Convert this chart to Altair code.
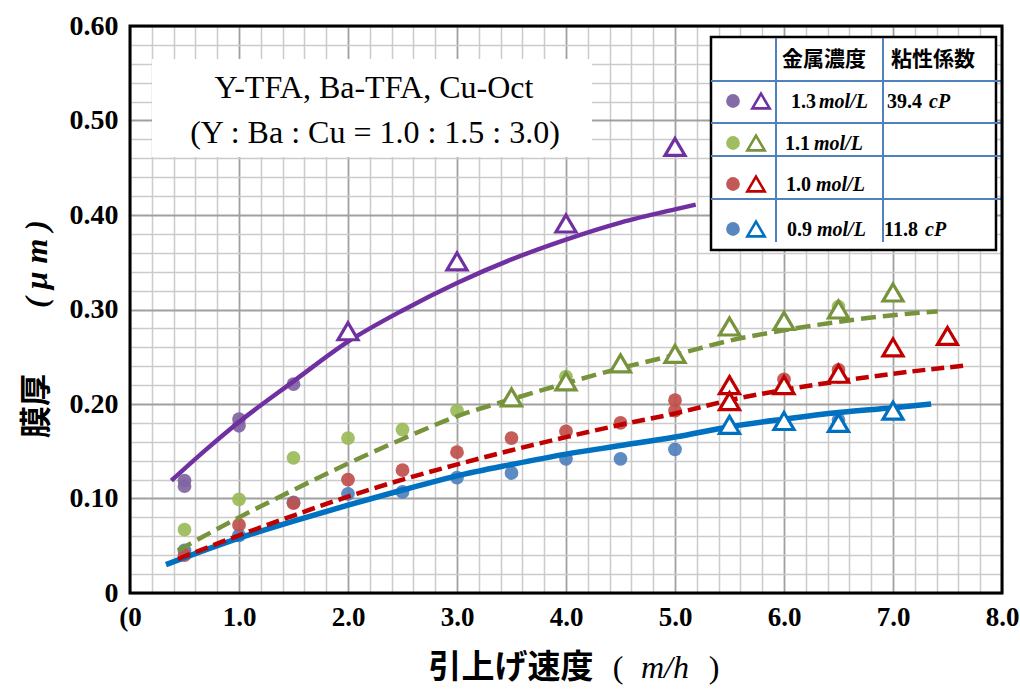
import altair as alt
import pandas as pd

# ---------------------------------------------------------------
# Film thickness (um) vs. withdrawal speed (m/h) for four metal
# concentrations of the Y-TFA / Ba-TFA / Cu-Oct solution.
# ---------------------------------------------------------------
SERIES = ["1.3", "1.1", "1.0", "0.9"]

# filled circles
circ_x = {
    "1.3": [0.5, 0.5, 1.0, 1.0, 1.5],
    "1.1": [0.5, 1.0, 1.5, 2.0, 2.5, 3.0, 4.0, 6.5],
    "1.0": [0.5, 1.0, 1.5, 2.0, 2.5, 3.0, 3.5, 4.0, 4.5, 5.0, 5.0, 6.0, 6.5],
    "0.9": [0.5, 1.0, 1.5, 2.0, 2.5, 3.0, 3.5, 4.0, 4.5, 5.0, 6.5],
}
circ_y = {
    "1.3": [0.119, 0.113, 0.184, 0.177, 0.221],
    "1.1": [0.067, 0.099, 0.143, 0.164, 0.173, 0.193, 0.229, 0.303],
    "1.0": [0.040, 0.072, 0.095, 0.120, 0.130, 0.149, 0.164, 0.171, 0.180, 0.204, 0.193, 0.226, 0.236],
    "0.9": [0.045, 0.061, 0.096, 0.105, 0.107, 0.122, 0.127, 0.142, 0.142, 0.152, 0.183],
}

# open triangles
tri_x = {
    "1.3": [2.0, 3.0, 4.0, 5.0],
    "1.1": [3.5, 4.0, 4.5, 5.0, 5.5, 6.0, 6.5, 7.0],
    "1.0": [5.5, 5.5, 6.0, 6.5, 7.0, 7.5],
    "0.9": [5.5, 6.0, 6.5, 7.0],
}
tri_y = {
    "1.3": [0.277, 0.351, 0.391, 0.472],
    "1.1": [0.207, 0.224, 0.243, 0.253, 0.282, 0.288, 0.300, 0.318],
    "1.0": [0.220, 0.203, 0.220, 0.232, 0.260, 0.272],
    "0.9": [0.178, 0.182, 0.180, 0.193],
}

# trend curves
fit_x = {
    "1.3": [0.38, 0.7, 1.0, 1.5, 2.0, 2.5, 3.0, 3.5, 4.0, 4.5, 5.0, 5.19],
    "1.1": [0.44, 1.0, 1.5, 2.0, 2.5, 3.0, 3.5, 4.0, 4.5, 5.0, 5.5, 6.0, 6.5, 7.0, 7.41],
    "1.0": [0.44, 1.0, 1.5, 2.0, 2.5, 3.0, 3.5, 4.0, 4.5, 5.0, 5.5, 6.0, 6.5, 7.0, 7.69],
    "0.9": [0.33, 1.0, 1.5, 2.0, 2.5, 3.0, 3.5, 4.0, 4.5, 5.0, 5.5, 6.0, 6.5, 7.0, 7.35],
}
fit_y = {
    "1.3": [0.119, 0.152, 0.181, 0.224, 0.266, 0.299, 0.328, 0.353, 0.374, 0.392, 0.406, 0.411],
    "1.1": [0.045, 0.080, 0.109, 0.137, 0.163, 0.187, 0.205, 0.222, 0.238, 0.252, 0.267, 0.278, 0.287, 0.294, 0.298],
    "1.0": [0.036, 0.061, 0.082, 0.102, 0.120, 0.136, 0.151, 0.165, 0.178, 0.190, 0.204, 0.215, 0.224, 0.232, 0.241],
    "0.9": [0.030, 0.058, 0.076, 0.093, 0.109, 0.124, 0.136, 0.147, 0.156, 0.165, 0.176, 0.184, 0.191, 0.196, 0.200],
}

# legend table contents
conc_labels = ["1.3", "1.1", "1.0", "0.9"]
visc_labels = ["39.4", "", "", "11.8"]
header_labels = ["金属濃度", "粘性係数"]
note_lines = ["Y-TFA, Ba-TFA, Cu-Oct", "(Y : Ba : Cu = 1.0 : 1.5 : 3.0)"]

# axis ticks (grid every 0.2 / 0.02, labels on the major lines)
x_ticks = [round(i * 0.2, 1) for i in range(41)]
y_ticks = [round(i * 0.02, 2) for i in range(31)]

# ---------------------------------------------------------------
# styling
# ---------------------------------------------------------------
W, H = 872, 567
SERIF = "Liberation Serif"
CJK = "Noto Sans CJK JP"

dot_color = {"1.3": "#8064A2", "1.1": "#9BBB59", "1.0": "#C0504D", "0.9": "#4F81BD"}
line_color = {"1.3": "#7030A0", "1.1": "#77933C", "1.0": "#C00000", "0.9": "#0070C0"}
line_dash = {"1.3": None, "1.1": [15, 7], "1.0": [13, 6], "0.9": None}
line_width = {"1.3": 4.5, "1.1": 4.5, "1.0": 4.5, "0.9": 5.5}

TRI = "M0,-0.85L1,0.85L-1,0.85Z"

x_major = "abs(datum.value - round(datum.value)) < 0.001"
y_major = "abs(datum.value * 10 - round(datum.value * 10)) < 0.001"

x_axis = alt.Axis(
    values=x_ticks, grid=True, ticks=False, domain=False,
    gridColor={"condition": {"test": x_major, "value": "#a0a0a0"}, "value": "#cbcbcb"},
    gridWidth={"condition": {"test": x_major, "value": 1.8}, "value": 1.5},
    labelExpr=f"datum.value == 0 ? '(0' : ({x_major} ? format(datum.value, '.1f') : '')",
    labelFont=SERIF, labelFontWeight="bold", labelFontSize=27, labelColor="black",
    labelPadding=11, labelOverlap=False, labelFlush=False,
)
y_axis = alt.Axis(
    values=y_ticks, grid=True, ticks=False, domain=False,
    gridColor={"condition": {"test": y_major, "value": "#a0a0a0"}, "value": "#cbcbcb"},
    gridWidth={"condition": {"test": y_major, "value": 1.8}, "value": 1.5},
    labelExpr=f"datum.value == 0 ? '0' : ({y_major} ? format(datum.value, '.2f') : '')",
    labelFont=SERIF, labelFontWeight="bold", labelFontSize=28, labelColor="black",
    labelPadding=12, labelOverlap=False, labelFlush=False,
)

x_enc = alt.X("speed:Q", scale=alt.Scale(domain=[0, 8], nice=False, zero=False), axis=x_axis, title=None)
y_enc = alt.Y("thick:Q", scale=alt.Scale(domain=[0, 0.6], nice=False, zero=False), axis=y_axis, title=None)

one = pd.DataFrame({"k": [0]})


def text_at(txt, px, py, size, font=SERIF, weight="bold", style="normal", align="center", angle=0):
    return alt.Chart(one).mark_text(
        text=txt, font=font, fontSize=size, fontWeight=weight, fontStyle=style,
        align=align, baseline="middle", angle=angle, color="black",
    ).encode(x=alt.value(px), y=alt.value(py))


def box(x0, x1, y0, y1, fill="white", stroke=None, sw=0):
    kw = dict(fill=fill)
    if stroke:
        kw.update(stroke=stroke, strokeWidth=sw)
    return alt.Chart(one).mark_rect(**kw).encode(
        x=alt.value(x0), x2=alt.value(x1), y=alt.value(y0), y2=alt.value(y1))


def hline(x0, x1, y, color, sw):
    return alt.Chart(one).mark_rule(color=color, strokeWidth=sw).encode(
        x=alt.value(x0), x2=alt.value(x1), y=alt.value(y))


def vline(x, y0, y1, color, sw):
    return alt.Chart(one).mark_rule(color=color, strokeWidth=sw).encode(
        x=alt.value(x), y=alt.value(y0), y2=alt.value(y1))


layers = []

# white panel behind the solution note
layers.append(box(22, 462, 33, 131))

# filled circles
for s in ["0.9", "1.0", "1.1", "1.3"]:
    df = pd.DataFrame({"speed": circ_x[s], "thick": circ_y[s]})
    layers.append(alt.Chart(df).mark_point(
        shape="circle", filled=True, size=190, color=dot_color[s], opacity=0.92
    ).encode(x=x_enc, y=y_enc))

# trend curves
for s in ["0.9", "1.0", "1.1", "1.3"]:
    df = pd.DataFrame({"speed": fit_x[s], "thick": fit_y[s]})
    kw = dict(color=line_color[s], strokeWidth=line_width[s], interpolate="monotone", strokeCap="butt")
    if line_dash[s]:
        kw["strokeDash"] = line_dash[s]
    layers.append(alt.Chart(df).mark_line(**kw).encode(x=x_enc, y=y_enc))

# open triangles
for s in ["0.9", "1.0", "1.1", "1.3"]:
    df = pd.DataFrame({"speed": tri_x[s], "thick": tri_y[s]})
    layers.append(alt.Chart(df).mark_point(
        shape=TRI, size=400, filled=False, fill="white", fillOpacity=1,
        stroke=line_color[s], strokeWidth=3.2, opacity=1
    ).encode(x=x_enc, y=y_enc))

# note text
layers.append(text_at(note_lines[0], 244, 62, 32, weight="normal"))
layers.append(text_at(note_lines[1], 245, 107, 32, weight="normal"))

# legend table
layers.append(box(581, 866, 11, 224, fill="white", stroke="black", sw=2.5))
for yy in [55, 97, 130, 173]:
    layers.append(hline(581, 872, yy, "#4F81BD", 2))
for xx in [646, 753]:
    layers.append(vline(xx, 12, 216, "#4F81BD", 2))
layers.append(text_at(header_labels[0], 694, 34, 21, font=CJK))
layers.append(text_at(header_labels[1], 803, 34, 21, font=CJK))

row_y = [75, 117, 158, 203]
tri_lx = [631, 626, 626, 626]
num_lx = [661, 655, 656, 657]
unit_lx = [689, 684, 686, 687]
for i, s in enumerate(SERIES):
    layers.append(alt.Chart(one).mark_point(
        shape="circle", filled=True, size=190, color=dot_color[s], opacity=0.95
    ).encode(x=alt.value(603), y=alt.value(row_y[i])))
    layers.append(alt.Chart(one).mark_point(
        shape=TRI, size=300, filled=False, fill="white", fillOpacity=1,
        stroke=line_color[s], strokeWidth=2.6, opacity=1
    ).encode(x=alt.value(tri_lx[i]), y=alt.value(row_y[i])))
    layers.append(text_at(conc_labels[i], num_lx[i], row_y[i] + 1, 20, align="left"))
    layers.append(text_at("mol/L", unit_lx[i], row_y[i] + 1, 20, style="italic", align="left"))
visc_lx = {0: (757, 799), 3: (754, 795)}
for i, (nx, ux) in visc_lx.items():
    layers.append(text_at(visc_labels[i], nx, row_y[i] + 1, 20, align="left"))
    layers.append(text_at("cP", ux, row_y[i] + 1, 20, style="italic", align="left"))

# axis titles
layers.append(text_at("膜厚", -93, 380, 32, font=CJK, angle=270))
layers.append(text_at("( μ m )", -93, 238, 32, font=SERIF, style="italic", angle=270))
layers.append(text_at("引上げ速度", 381, 642, 33, font=CJK))
layers.append(text_at("(", 488, 642, 32, weight="normal"))
layers.append(text_at("m/h", 535, 642, 32, weight="normal", style="italic"))
layers.append(text_at(")", 584, 642, 32, weight="normal"))

# plot frame
layers.append(alt.Chart(one).mark_rect(fill="white", fillOpacity=0, stroke="black", strokeWidth=3).encode(
    x=alt.value(0), x2=alt.value(W), y=alt.value(0), y2=alt.value(H)))

chart = alt.layer(*layers).properties(
    width=W, height=H,
    padding={"left": 130, "top": 26, "right": 18, "bottom": 96},
    autosize=alt.AutoSizeParams(type="none"),
    background="white",
).configure_view(stroke=None)

chart.save("out.html", embed_options={"renderer": "svg", "actions": False})
